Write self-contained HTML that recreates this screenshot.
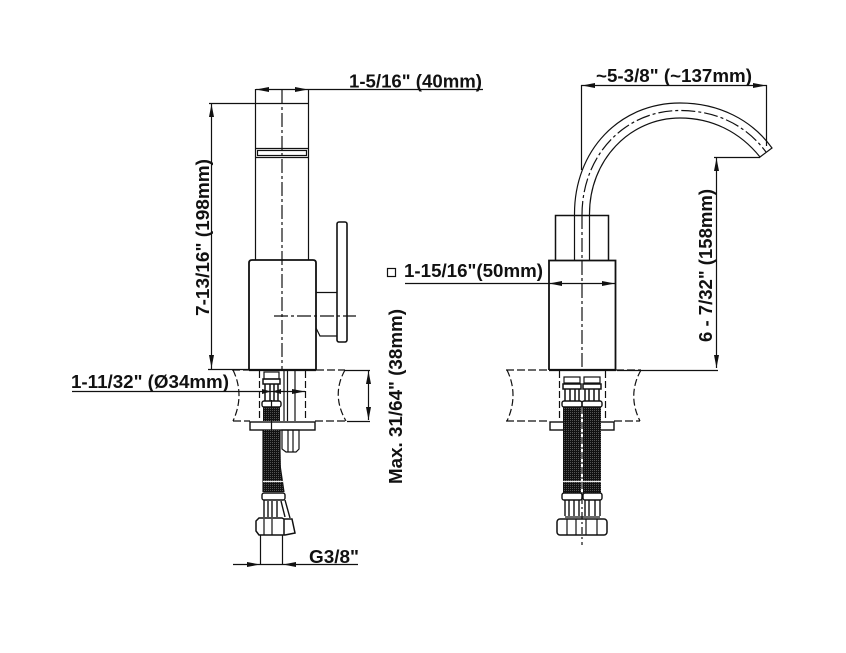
<!DOCTYPE html>
<html><head><meta charset="utf-8"><style>
html,body{margin:0;padding:0;background:#fff}
svg{display:block}
text{font-family:"Liberation Sans",sans-serif;font-weight:bold;font-size:18px;fill:#111}
</style></head><body>
<svg width="846" height="653" viewBox="0 0 846 653" xmlns="http://www.w3.org/2000/svg">
<defs>
<pattern id="h" width="2" height="2" patternUnits="userSpaceOnUse"><rect width="2" height="2" fill="#111"/><rect width="1" height="1" fill="#555"/></pattern>
</defs>
<g fill="none" stroke="#111" stroke-width="1.200">
<!-- LEFT VIEW -->
<path d="M255.500 89V260M308.500 89V260"/>
<path d="M255 148.500H309M255 157.500H309"/>
<rect x="257.500" y="150.500" width="49" height="5"/>
<path stroke-width="1.800" d="M249 370V263Q249 260 252 260H313Q316 260 316 263V370"/>
<path stroke-width="2.200" d="M249 370H316"/>
<rect x="337" y="222" width="10" height="120" rx="2" stroke-width="1.600"/>
<path d="M316 292.500H337M316 328L320 336H337"/>
<path stroke-dasharray="14 3 3 3" d="M282 90V370M274 316H356"/>
<!-- counter -->
<path stroke-dasharray="8 3" d="M232 370H249M316 370H345M233 421H250M315 421H347"/>
<path stroke-dasharray="7 3" d="M233 370Q245 395 233 421M345 370Q331 395 346 421M259.500 371V421M305.500 371V421"/>
<path d="M284 371V421M287.500 371V421M295 371V421"/>
<!-- connector -->
<rect x="264" y="372" width="15" height="7"/>
<path stroke-width="1.500" d="M263 379H280V384H263ZM265 384V401M270 384V401M274 384V401M278 384V401"/>
<rect x="262" y="401" width="19" height="6" rx="2" stroke-width="1.400"/>
<rect x="250" y="422" width="65" height="8" stroke-width="1.400"/>
<path fill="url(#h)" stroke="none" d="M263 407H280V421H263ZM263 430H280L281 470L284 492H263Z"/>
<path d="M263 430V492M280 430V465L284 492"/>
<path d="M282 430H299V449L296 452H286L282 449ZM288 430V452M293 430V452"/>
<path stroke="#eee" d="M263 481.500H284"/>
<rect x="262" y="493" width="23" height="7" rx="2" stroke-width="1.400"/>
<path stroke-width="1.400" d="M264 500V517M268 501V517M272 501V517M277 501V517M281 501L285 517M285 500L290 518"/>
<path stroke-width="1.500" d="M259 518H282L284 519H292L295 533L285 535H259L256 531V521ZM284 519V535"/>
<path d="M264 519V535M272 519V535"/>
<path d="M271.500 400V430M260.500 535V565M282.500 535V565"/>
<!-- dimensions left -->
<path d="M309 89.500H483M256 89.500H309M209 103.500H309M211.500 103V369M208 369.500H249M72 391.500H305M368.500 371V420M233 564.500H358M345 370.500H370M347 421.500H370"/>
<!-- RIGHT VIEW -->
<path stroke-width="1.500" d="M555.500 260V215.500H608.500V260"/>
<path d="M574.500 215C574 150 620 103 680 103C719 103 752 120 772 148L760 157C740 132 712 118 680 118C630 118 589 160 589.500 215V260M574.500 215V260"/>
<path stroke-dasharray="14 3 3 3" d="M582 215V370M582 215C582 155 625 110.500 680 110.500C716 110.500 746 125 766 152"/>
<path stroke-width="1.800" d="M549 370V260.500H615.500V370"/>
<path stroke-width="2.200" d="M549 370H616"/>
<path stroke-dasharray="8 3" d="M506 370H549M616 370H641M506 421H549M614 421H640"/>
<path stroke-dasharray="7 3" d="M507 370Q519 395 507 421M641 370Q627 395 640 421M559.500 371V421M605.500 371V421"/>
<rect x="550" y="422" width="20" height="8" stroke-width="1.400"/>
<rect x="593" y="422" width="21" height="8" stroke-width="1.400"/>
<path fill="url(#h)" stroke="none" d="M563 407H581V493H563ZM583 407H601V493H583Z"/>
<path d="M563 481.500H601" stroke="#eee"/>
<rect x="564" y="377" width="16" height="6"/><rect x="584" y="377" width="16" height="6"/>
<path stroke-width="1.500" d="M563 384H581V389H563ZM583 384H601V389H583ZM565 389V401M570 389V401M575 389V401M579 389V401M585 389V401M589 389V401M594 389V401M599 389V401"/>
<rect x="562" y="401" width="20" height="6" rx="2" stroke-width="1.400"/>
<rect x="582" y="401" width="20" height="6" rx="2" stroke-width="1.400"/>
<rect x="562" y="493" width="20" height="7" rx="2" stroke-width="1.400"/>
<rect x="583" y="493" width="19" height="7" rx="2" stroke-width="1.400"/>
<path stroke-width="1.400" d="M565 500V516M569 500V516M574 500V516M579 500V516M585 500V516M589 500V516M595 500V516M600 500V516"/>
<rect x="557" y="519" width="50" height="16" rx="3" stroke-width="1.500"/>
<path d="M567 519V535M576 519V535M586 519V535M597 519V535M565 517H600"/>
<path stroke-dasharray="7 3 2 3" d="M582 407V545"/>
<!-- dimensions right -->
<path d="M581 85.500H767M581.500 85V170M766.500 85V146M714 157.500H760M716.500 157V368M617 370.500H718M405 283.500H616"/>
<rect x="387.500" y="268.500" width="8" height="8"/>
</g>
<g fill="#111">
<path d="M256 89.500L269 87V92ZM308 89.500L295 87V92Z"/>
<path d="M211.500 104L209 117H214ZM211.500 368L209 355H214Z"/>
<path d="M368.500 371L366 384H371ZM368.500 420L366 407H371Z"/>
<path d="M271 391.500L262 389V394ZM272 391.500L281 389V394ZM305 391.500L292 389V394Z"/>
<path d="M260 564.500L247 562V567ZM283 564.500L296 562V567Z"/>
<path d="M582 85.500L595 83V88ZM766 85.500L753 83V88Z"/>
<path d="M716.500 158L714 171H719ZM716.500 368L714 355H719Z"/>
<path d="M549 283.500L562 281V286ZM615 283.500L602 281V286Z"/>
</g>
<text x="349" y="87.500" textLength="133" lengthAdjust="spacingAndGlyphs">1-5/16" (40mm)</text>
<text x="596" y="82" textLength="156" lengthAdjust="spacingAndGlyphs">~5-3/8" (~137mm)</text>
<text x="404" y="277" textLength="139" lengthAdjust="spacingAndGlyphs">1-15/16"(50mm)</text>
<text x="71" y="388" textLength="158" lengthAdjust="spacingAndGlyphs">1-11/32" (Ø34mm)</text>
<text x="309" y="563" textLength="50" lengthAdjust="spacingAndGlyphs">G3/8"</text>
<text transform="translate(209,316) rotate(-90)" textLength="157" lengthAdjust="spacingAndGlyphs">7-13/16" (198mm)</text>
<text transform="translate(402,484) rotate(-90)" textLength="175" lengthAdjust="spacingAndGlyphs">Max. 31/64" (38mm)</text>
<text transform="translate(712,342) rotate(-90)" textLength="153" lengthAdjust="spacingAndGlyphs">6 - 7/32" (158mm)</text>
</svg>
</body></html>
